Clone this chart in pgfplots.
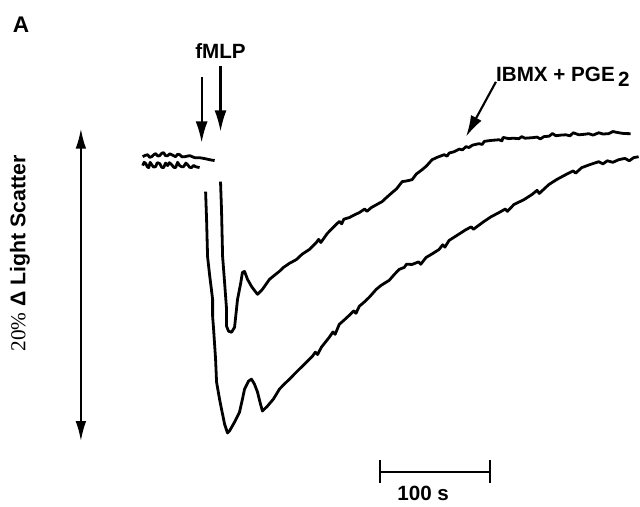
\documentclass[border=0pt]{standalone}
\usepackage{pgfplots}
\pgfplotsset{compat=1.18}
\usepackage{fontspec}
\setmainfont{Liberation Sans}
\newfontfamily\seriffont{Liberation Serif}
\usetikzlibrary{arrows.meta}

% time in s, signal in % change of light scatter (0 = resting level)
\begin{document}
\begin{tikzpicture}
\begin{axis}[
    scale only axis,
    width=480pt, height=381pt,
    xmin=-127.3, xmax=454.5,
    ymin=-22.44, ymax=10.13,
    hide axis,
    clip=false,
    trace/.style={black, line width=2.1pt, line join=round, mark=none},
]
\path (rel axis cs:0,0) rectangle (rel axis cs:1,1);

% trace 1 (IBMX + PGE2): resting level
\addplot[trace] coordinates {
 (2.7,0.06) (5.0,0.15) (7.3,0.19) (9.0,0.02) (10.9,0.06) (13.0,0.20) (14.5,0.26)
 (16.5,0.10) (18.2,0.13) (20.0,0.28) (21.8,0.32) (23.5,0.12) (25.5,0.13) (27.5,0.25)
 (29.1,0.19) (32.7,0.06) (34.5,0.22) (36.4,0.19) (38.5,0.05) (40.9,0.06) (45.5,0.13)
 (50.0,0.00) (54.5,0.00) (59.1,-0.06) (63.6,-0.13) (68.2,-0.19)
};
% trace 1: response
\addplot[trace] coordinates {
 (73.6,-1.54) (74.5,-3.33) (75.5,-6.35) (77.3,-8.01) (79.1,-9.74) (79.1,-10.83)
 (80.9,-11.15) (83.6,-11.22) (86.4,-10.90) (89.1,-9.10) (91.8,-8.14) (93.6,-7.37)
 (95.5,-7.31) (98.2,-7.82) (101.8,-8.27) (104.5,-8.53) (107.3,-8.78) (111.8,-8.46)
 (118.2,-7.82) (122.0,-7.60) (127.3,-7.30) (131.0,-7.05) (136.4,-6.79) (142.7,-6.55)
 (148.0,-6.20) (154.5,-5.90) (160.9,-5.45) (163.0,-5.25) (165.0,-5.45) (170.9,-4.87)
 (176.0,-4.50) (181.8,-4.10) (184.0,-4.25) (186.0,-3.95) (190.9,-3.85) (195.0,-3.70)
 (200.0,-3.53) (205.0,-3.30) (207.0,-3.45) (210.9,-3.21) (215.0,-3.05) (220.9,-2.82)
 (225.0,-2.55) (230.0,-2.24) (234.0,-2.00) (239.1,-1.54) (243.0,-1.50) (248.2,-1.41)
 (252.0,-1.05) (257.3,-0.77) (261.0,-0.55) (266.4,-0.13) (271.0,0.02) (277.3,0.19)
 (280.0,0.10) (282.0,0.30) (286.4,0.38) (291.0,0.55) (294.0,0.50) (297.3,0.71)
 (300.0,0.65) (303.0,0.80) (309.1,0.90) (312.0,0.85) (314.0,1.05) (318.2,1.09)
 (322.0,1.12) (327.3,1.15) (330.0,1.08) (331.0,1.30) (336.4,1.22) (340.0,1.25)
 (345.5,1.22) (348.0,1.35) (351.0,1.25) (357.3,1.28) (362.0,1.32) (365.0,1.20)
 (368.2,1.35) (373.0,1.38) (376.0,1.55) (379.1,1.41) (384.0,1.45) (388.2,1.47)
 (392.0,1.40) (395.0,1.60) (400.0,1.47) (405.0,1.50) (409.1,1.54) (413.0,1.45)
 (418.2,1.60) (422.0,1.52) (427.3,1.54) (431.0,1.68) (436.4,1.60) (441.0,1.55)
 (447.3,1.54)
};

% trace 2 (fMLP alone): resting level
\addplot[trace] coordinates {
 (2.7,-0.51) (4.0,-0.30) (5.5,-0.38) (7.0,-0.60) (8.2,-0.64) (9.5,-0.30) (10.9,-0.45)
 (12.5,-0.60) (14.5,-0.58) (16.0,-0.32) (18.2,-0.38) (20.0,-0.62) (21.8,-0.64)
 (23.5,-0.35) (25.5,-0.51) (27.0,-0.32) (29.1,-0.45) (31.0,-0.62) (32.7,-0.64)
 (34.5,-0.30) (36.4,-0.51) (38.0,-0.58) (40.0,-0.58) (42.0,-0.35) (43.6,-0.45)
 (45.5,-0.62) (47.3,-0.64) (49.0,-0.50) (50.9,-0.58) (54.5,-0.64)
};
% trace 2: response
\addplot[trace] coordinates {
 (60.0,-2.18) (60.9,-3.97) (61.8,-6.35) (63.6,-7.50) (66.4,-9.10) (66.4,-10.19)
 (67.3,-11.03) (69.1,-12.95) (70.0,-14.42) (72.7,-15.51) (74.5,-16.15) (77.3,-17.12)
 (80.0,-17.69) (81.8,-17.56) (86.4,-16.99) (90.9,-16.35) (93.6,-15.51) (95.5,-14.87)
 (99.1,-14.36) (101.8,-14.23) (104.5,-14.55) (107.3,-15.06) (110.0,-15.83)
 (111.8,-16.28) (116.4,-15.96) (121.8,-15.51) (127.3,-14.87) (131.0,-14.60)
 (136.4,-14.23) (142.7,-13.78) (150.0,-13.27) (157.3,-12.76) (160.0,-12.50)
 (162.0,-12.65) (165.5,-12.18) (172.7,-11.54) (176.0,-11.20) (178.0,-11.35)
 (181.8,-10.71) (186.0,-10.45) (190.9,-10.13) (195.0,-9.85) (197.0,-10.00)
 (200.0,-9.55) (205.0,-9.25) (209.1,-8.97) (215.5,-8.46) (220.0,-8.20) (227.3,-7.88)
 (232.0,-7.50) (236.4,-7.18) (241.0,-7.05) (243.0,-6.85) (248.2,-6.86) (254.0,-6.70)
 (256.0,-6.85) (260.9,-6.41) (266.0,-6.20) (272.7,-5.90) (276.0,-5.60) (278.0,-5.75)
 (281.8,-5.32) (290.0,-4.95) (297.3,-4.62) (302.0,-4.45) (304.0,-4.60) (313.6,-4.10)
 (320.0,-3.80) (327.3,-3.53) (333.0,-3.30) (335.0,-3.45) (340.9,-3.01) (350.0,-2.70)
 (357.3,-2.37) (362.0,-2.10) (364.0,-2.30) (372.7,-1.73) (380.0,-1.40) (388.2,-1.09)
 (395.0,-0.85) (397.0,-1.00) (402.7,-0.64) (410.0,-0.45) (418.2,-0.26) (422.0,-0.40)
 (426.0,-0.20) (431.0,-0.30) (436.4,-0.13) (442.0,-0.05) (446.0,-0.20) (450.0,0.00)
 (454.5,0.06)
};

% stimulus arrows and labels
\draw[line width=1.6pt, -{Latex[length=16pt, width=9pt]}] (axis cs:56.4,5.19) -- (axis cs:56.4,0.96);
\draw[line width=1.6pt, -{Latex[length=16pt, width=9pt]}] (axis cs:73.6,5.90) -- (axis cs:73.6,1.67);
\node[font=\bfseries\fontsize{15.5}{18}\selectfont, inner sep=0pt] at (axis cs:73.6,6.86) {fMLP};

\draw[line width=1.6pt, -{Latex[length=16pt, width=9pt]}] (axis cs:324.5,4.87) -- (axis cs:297.3,1.35);
\node[font=\bfseries\fontsize{15.5}{18}\selectfont, inner sep=0pt, anchor=base west]
  at (axis cs:324.5,4.87) {IBMX + PGE\,\raisebox{-0.45ex}{2}};

% panel letter
\node[font=\bfseries\fontsize{17}{20}\selectfont, inner sep=0pt] at (axis cs:-108.2,8.53) {A};

% vertical scale: 20 %
\draw[line width=1.5pt, {Latex[length=15pt, width=8pt]}-{Latex[length=15pt, width=8pt]}]
  (axis cs:-53.6,1.86) -- (axis cs:-53.6,-18.21);
\node[rotate=90, inner sep=0pt, font=\fontsize{16}{19}\selectfont] at (axis cs:-109.1,-6.15)
  {{\seriffont 20\%} \textbf{Δ Light Scatter}};

% time scale: 100 s
\draw[line width=1.5pt] (axis cs:219.1,-20.19) -- (axis cs:319.1,-20.19);
\draw[line width=1.5pt] (axis cs:219.1,-19.45) -- (axis cs:219.1,-20.93);
\draw[line width=1.5pt] (axis cs:319.1,-19.45) -- (axis cs:319.1,-20.93);
\node[font=\bfseries\fontsize{15.5}{18}\selectfont, inner sep=0pt, anchor=base] at (axis cs:258.2,-22.0) {100 s};
\end{axis}
\end{tikzpicture}
\end{document}
